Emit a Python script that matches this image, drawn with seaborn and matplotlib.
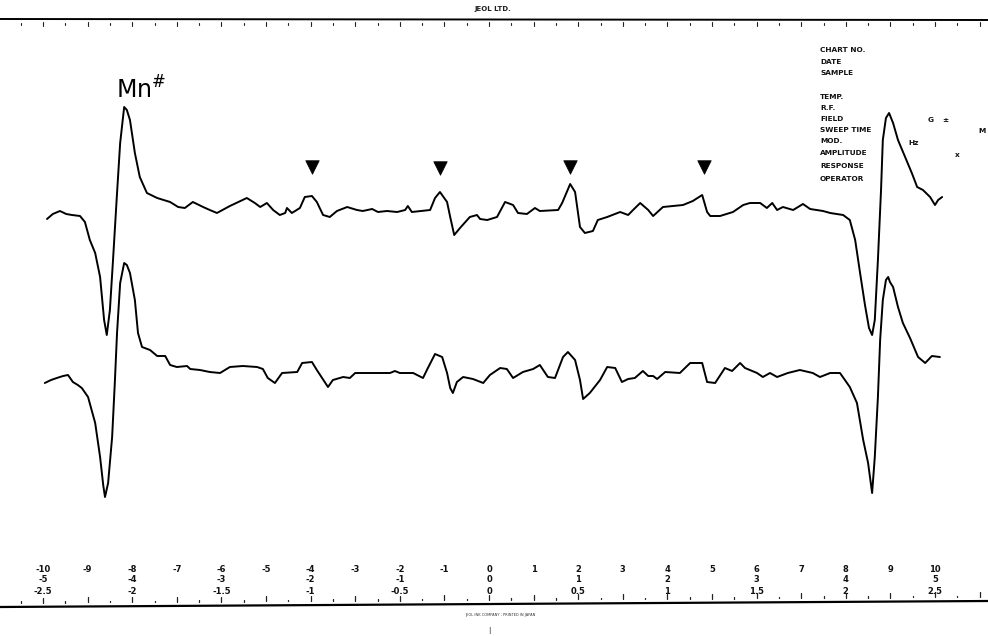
import numpy as np
import pandas as pd
import matplotlib
matplotlib.use("Agg")
import matplotlib.pyplot as plt
import seaborn as sns

# ---------------- data (field in scale units, signal in arbitrary units) ----------------
upper_field = [-9.91, -9.78, -9.62, -9.48, -9.35, -9.17, -9.06, -8.95, -8.83, -8.72,
               -8.63, -8.57, -8.50, -8.43, -8.34, -8.27, -8.18, -8.12, -8.05, -7.94,
               -7.83, -7.67, -7.44, -7.15, -6.97, -6.82, -6.64, -6.41, -6.26, -6.10,
               -5.81, -5.43, -5.25, -5.13, -4.98, -4.84, -4.69, -4.57, -4.53, -4.42,
               -4.24, -4.13, -3.97, -3.86, -3.72, -3.57, -3.41, -3.18, -2.96, -2.83,
               -2.62, -2.49, -2.29, -2.06, -1.88, -1.82, -1.73, -1.32, -1.21, -1.10,
               -0.94, -0.87, -0.78, -0.65, -0.43, -0.27, -0.20, -0.04, 0.18, 0.36,
               0.54, 0.65, 0.85, 1.03, 1.14, 1.55, 1.64, 1.82, 1.93, 2.04,
               2.15, 2.33, 2.44, 2.65, 2.94, 3.12, 3.23, 3.39, 3.57, 3.68,
               3.90, 4.35, 4.57, 4.78, 4.89, 4.96, 5.18, 5.47, 5.70, 5.85,
               6.08, 6.23, 6.35, 6.46, 6.59, 6.82, 7.04, 7.20, 7.49, 7.65,
               7.80, 7.94, 8.09, 8.21, 8.32, 8.43, 8.52, 8.59, 8.65, 8.72,
               8.79, 8.83, 8.90, 8.97, 9.06, 9.17, 9.33, 9.48, 9.60, 9.73,
               9.89, 10.00, 10.07, 10.16]
upper_signal = [-14, -9, -6, -9, -10, -11, -17, -35, -48, -72,
                -115, -130, -105, -55, 12, 62, 98, 95, 85, 52,
                28, 12, 7, 3, -2, -3, 3, -2, -5, -8,
                -1, 7, 2, -2, 2, -5, -10, -8, -3, -8,
                -3, 8, 9, 3, -10, -12, -6, -2, -5, -6,
                -4, -7, -6, -7, -5, -1, -7, -5, 7, 13,
                3, -12, -30, -23, -12, -10, -14, -15, -12, 3,
                0, -8, -9, -3, -6, -5, 2, 21, 13, -22,
                -28, -26, -15, -12, -7, -10, -5, 2, -5, -11,
                -2, 0, 4, 10, -7, -11, -11, -7, 0, 2,
                2, -3, 2, -5, -2, -5, 1, -4, -6, -8,
                -9, -10, -15, -35, -68, -100, -123, -130, -115, -55,
                15, 65, 87, 92, 82, 65, 48, 32, 18, 15,
                8, 0, 5, 8]

lower_field = [-9.96, -9.82, -9.69, -9.55, -9.44, -9.33, -9.22, -9.13, -8.99, -8.83,
               -8.72, -8.65, -8.61, -8.54, -8.45, -8.39, -8.34, -8.27, -8.18, -8.12,
               -8.05, -7.94, -7.87, -7.78, -7.60, -7.44, -7.26, -7.15, -7.00, -6.77,
               -6.70, -6.48, -6.26, -6.03, -5.81, -5.52, -5.20, -5.07, -4.96, -4.80,
               -4.64, -4.30, -4.19, -3.97, -3.86, -3.61, -3.50, -3.27, -3.12, -3.00,
               -2.89, -2.22, -2.11, -2.00, -1.70, -1.48, -1.37, -1.21, -1.05, -0.94,
               -0.87, -0.81, -0.72, -0.58, -0.36, -0.13, 0.02, 0.25, 0.40, 0.54,
               0.76, 0.99, 1.14, 1.32, 1.48, 1.66, 1.77, 1.93, 2.04, 2.11,
               2.26, 2.49, 2.65, 2.83, 2.98, 3.12, 3.27, 3.45, 3.57, 3.68,
               3.77, 3.95, 4.28, 4.51, 4.78, 4.89, 5.07, 5.29, 5.45, 5.63,
               5.74, 6.01, 6.14, 6.30, 6.46, 6.70, 6.97, 7.26, 7.42, 7.65,
               7.87, 8.09, 8.25, 8.39, 8.50, 8.59, 8.65, 8.72, 8.77, 8.83,
               8.90, 8.95, 8.99, 9.06, 9.17, 9.28, 9.44, 9.62, 9.78, 9.93,
               10.11]
lower_signal = [-8, -5, -3, -1, 0, -7, -10, -13, -22, -48,
                -82, -110, -122, -108, -62, -8, 42, 92, 112, 110,
                102, 75, 42, 28, 25, 19, 19, 10, 8, 9,
                6, 5, 3, 2, 8, 9, 8, 6, -3, -8,
                2, 3, 12, 13, 5, -12, -5, -2, -3, 2,
                2, 2, 4, 2, 2, -3, 7, 21, 18, 2,
                -13, -18, -7, -2, -4, -8, 0, 7, 6, -3,
                3, 6, 10, -2, -3, 18, 23, 15, -5, -24,
                -18, -5, 8, 7, -7, -4, -3, 4, -1, -1,
                -4, 3, 2, 12, 12, -7, -8, 7, 4, 12,
                7, 2, -2, 2, -2, 2, 5, 2, -2, 2,
                2, -12, -28, -65, -88, -118, -82, -22, 35, 75,
                95, 98, 93, 88, 68, 52, 37, 18, 12, 19,
                18]

marker_field = [-3.97, -1.10, 1.82, 4.82]
marker_level = [38, 37, 38, 38]

scale_row1_pos = list(range(-10, 11))
scale_row1_lab = ["-10", "-9", "-8", "-7", "-6", "-5", "-4", "-3", "-2", "-1", "0",
                  "1", "2", "3", "4", "5", "6", "7", "8", "9", "10"]
scale_row2_pos = [-10, -8, -6, -4, -2, 0, 2, 4, 6, 8, 10]
scale_row2_lab = ["-5", "-4", "-3", "-2", "-1", "0", "1", "2", "3", "4", "5"]
scale_row3_lab = ["-2.5", "-2", "-1.5", "-1", "-0.5", "0", "0.5", "1", "1.5", "2", "2.5"]

info_labels = ["CHART NO.", "DATE", "SAMPLE", "", "TEMP.", "R.F.", "FIELD",
               "SWEEP TIME", "MOD.", "AMPLITUDE", "RESPONSE", "OPERATOR"]

# ---------------- layout ----------------
W, H = 988, 636
PX_PER_UNIT = 44.6
ZERO_PX = 489
XMIN = -ZERO_PX / PX_PER_UNIT
XMAX = (W - ZERO_PX) / PX_PER_UNIT
MID = 290
YMIN, YMAX = MID - H, MID
UPPER_OFFSET = 85
LOWER_OFFSET = -85

sns.set_theme(style="white")
plt.rcParams["font.family"] = ["DejaVu Sans"]

fig = plt.figure(figsize=(W / 100, H / 100), dpi=100)
ax = fig.add_axes([0, 0, 1, 1])
ax.set_xlim(XMIN, XMAX)
ax.set_ylim(YMIN, YMAX)
ax.axis("off")

def pxy(y):  # pixel row -> data y (layout helper for rulers/text)
    return MID - y

up = pd.DataFrame({"field": upper_field, "signal": np.array(upper_signal) + UPPER_OFFSET})
lo = pd.DataFrame({"field": lower_field, "signal": np.array(lower_signal) + LOWER_OFFSET})
for d in (up, lo):
    sns.lineplot(data=d, x="field", y="signal", ax=ax, color="black", lw=1.4,
                 sort=False, estimator=None, solid_joinstyle="round", solid_capstyle="round")

sns.scatterplot(x=marker_field, y=np.array(marker_level) + UPPER_OFFSET, marker="v",
                s=95, color="black", edgecolor="black", linewidth=0.5, ax=ax, zorder=5)

# Mn label
ax.text(-7.8, pxy(90), r"Mn$^{\#}$", fontsize=17, ha="center", va="center",
        color="black")

# top ruler
ax.plot([XMIN, XMAX], [pxy(19), pxy(20)], color="black", lw=1.4)
half = np.arange(-11, 11.5, 0.5)
for h in half:
    if abs(h - round(h)) < 1e-6:
        ax.plot([h, h], [pxy(22), pxy(26)], color="#222222", lw=0.8)
    else:
        ax.plot([h, h], [pxy(23), pxy(24.5)], color="#222222", lw=0.8)
ax.text(0.08, pxy(9), "JEOL LTD.", fontsize=5, ha="center", va="center",
        fontweight="bold", color="#222222")

# bottom ruler
yl, yr = pxy(607), pxy(601)
ax.plot([XMIN, XMAX], [yl, yr], color="black", lw=1.6)
def line_y(x):
    return yl + (x - XMIN) / (XMAX - XMIN) * (yr - yl)
for h in np.arange(-10.5, 11.5, 0.5):
    base = line_y(h)
    if abs(h - round(h)) < 1e-6:
        ax.plot([h, h], [base + 4, base + 9], color="#222222", lw=0.9)
    else:
        ax.plot([h, h], [base + 4, base + 5.5], color="#222222", lw=0.9)

tk = dict(fontsize=6, ha="center", va="center", fontweight="bold", color="#111111")
for p, l in zip(scale_row1_pos, scale_row1_lab):
    ax.text(p, pxy(569), l, **tk)
for p, l in zip(scale_row2_pos, scale_row2_lab):
    ax.text(p, pxy(580), l, **tk)
for p, l in zip(scale_row2_pos, scale_row3_lab):
    ax.text(p, pxy(591), l, **tk)

ax.text(0.25, pxy(615), "JEOL INK COMPANY ; PRINTED IN JAPAN", fontsize=2.6,
        ha="center", va="center", color="#333333")
ax.text(0.0, pxy(630), "|", fontsize=5, ha="center", va="center", color="#222222")

# info block at upper right
info_rows = [50, 62, 73, None, 97, 108, 119, 130, 141, 153, 166, 179]
x_info = (820 - ZERO_PX) / PX_PER_UNIT
it = dict(fontsize=5.3, ha="left", va="center", fontweight="bold", color="#111111")
for lab, r in zip(info_labels, info_rows):
    if r is None or lab == "":
        continue
    ax.text(x_info, pxy(r), lab, **it)
ax.text((928 - ZERO_PX) / PX_PER_UNIT, pxy(120), "G", **it)
ax.text((942 - ZERO_PX) / PX_PER_UNIT, pxy(120), "\u00b1", **it)
ax.text((978 - ZERO_PX) / PX_PER_UNIT, pxy(131), "M", **it)
ax.text((908 - ZERO_PX) / PX_PER_UNIT, pxy(143), "Hz", **it)
ax.text((955 - ZERO_PX) / PX_PER_UNIT, pxy(155), "x", **it)

fig.savefig("out.png", dpi=100, facecolor="white")
